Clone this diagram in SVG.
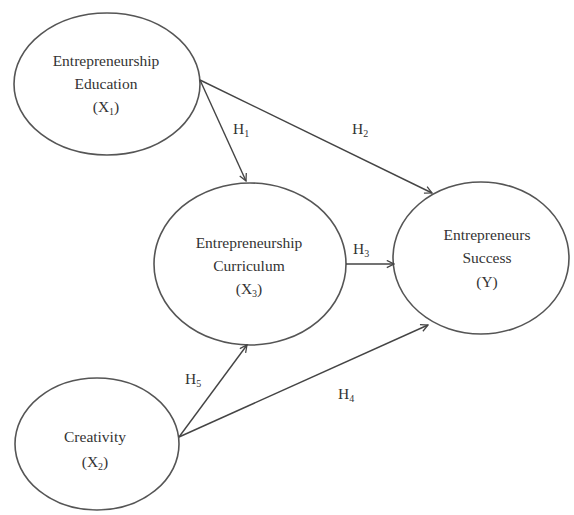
<svg xmlns="http://www.w3.org/2000/svg" width="574" height="515" viewBox="0 0 574 515">
<style>
.node ellipse{fill:#fff;stroke:#555;stroke-width:1.6}
.lbl{font-family:"Liberation Serif","Times New Roman",serif;font-size:15.5px;fill:#333;text-anchor:middle}
.h{font-family:"Liberation Serif","Times New Roman",serif;font-size:15.5px;fill:#333}
.sub{font-size:10px}
#connectors line{stroke:#444;stroke-width:1.4;marker-end:url(#arr)}
</style>
<defs>
<marker id="arr" viewBox="0 0 10 10" refX="9" refY="5" markerWidth="9" markerHeight="9" markerUnits="userSpaceOnUse" orient="auto">
<path d="M1,1 L9,5 L1,9" fill="none" stroke="#444" stroke-width="1.4"/>
</marker>
</defs>
<rect width="574" height="515" fill="#fff"/>
<g id="education" class="node">
<ellipse cx="107" cy="84" rx="93" ry="71"/>
<text class="lbl" x="106" y="66">Entrepreneurship</text>
<text class="lbl" x="106" y="89">Education</text>
<text class="lbl" x="106" y="112">(X<tspan class="sub" dy="3">1</tspan><tspan dy="-3">)</tspan></text>
</g>
<g id="curriculum" class="node">
<ellipse cx="250" cy="264" rx="96" ry="81"/>
<text class="lbl" x="249" y="248">Entrepreneurship</text>
<text class="lbl" x="249" y="271">Curriculum</text>
<text class="lbl" x="249" y="294">(X<tspan class="sub" dy="3">3</tspan><tspan dy="-3">)</tspan></text>
</g>
<g id="success" class="node">
<ellipse cx="481" cy="258" rx="88" ry="76"/>
<text class="lbl" x="487" y="240">Entrepreneurs</text>
<text class="lbl" x="487" y="263">Success</text>
<text class="lbl" x="487" y="287">(Y)</text>
</g>
<g id="creativity" class="node">
<ellipse cx="97" cy="444" rx="82" ry="66"/>
<text class="lbl" x="95" y="442">Creativity</text>
<text class="lbl" x="95" y="467">(X<tspan class="sub" dy="3">2</tspan><tspan dy="-3">)</tspan></text>
</g>
<g id="connectors">
<line x1="200" y1="80" x2="246" y2="181"/>
<line x1="200" y1="80" x2="432" y2="193"/>
<line x1="346" y1="264" x2="394" y2="264"/>
<line x1="179" y1="437" x2="247" y2="345"/>
<line x1="179" y1="437" x2="428" y2="325"/>
<text class="h" x="233" y="134">H<tspan class="sub" dy="3">1</tspan></text>
<text class="h" x="352" y="134">H<tspan class="sub" dy="3">2</tspan></text>
<text class="h" x="353" y="254">H<tspan class="sub" dy="3">3</tspan></text>
<text class="h" x="338" y="399">H<tspan class="sub" dy="3">4</tspan></text>
<text class="h" x="185" y="384">H<tspan class="sub" dy="3">5</tspan></text>
</g>
</svg>
